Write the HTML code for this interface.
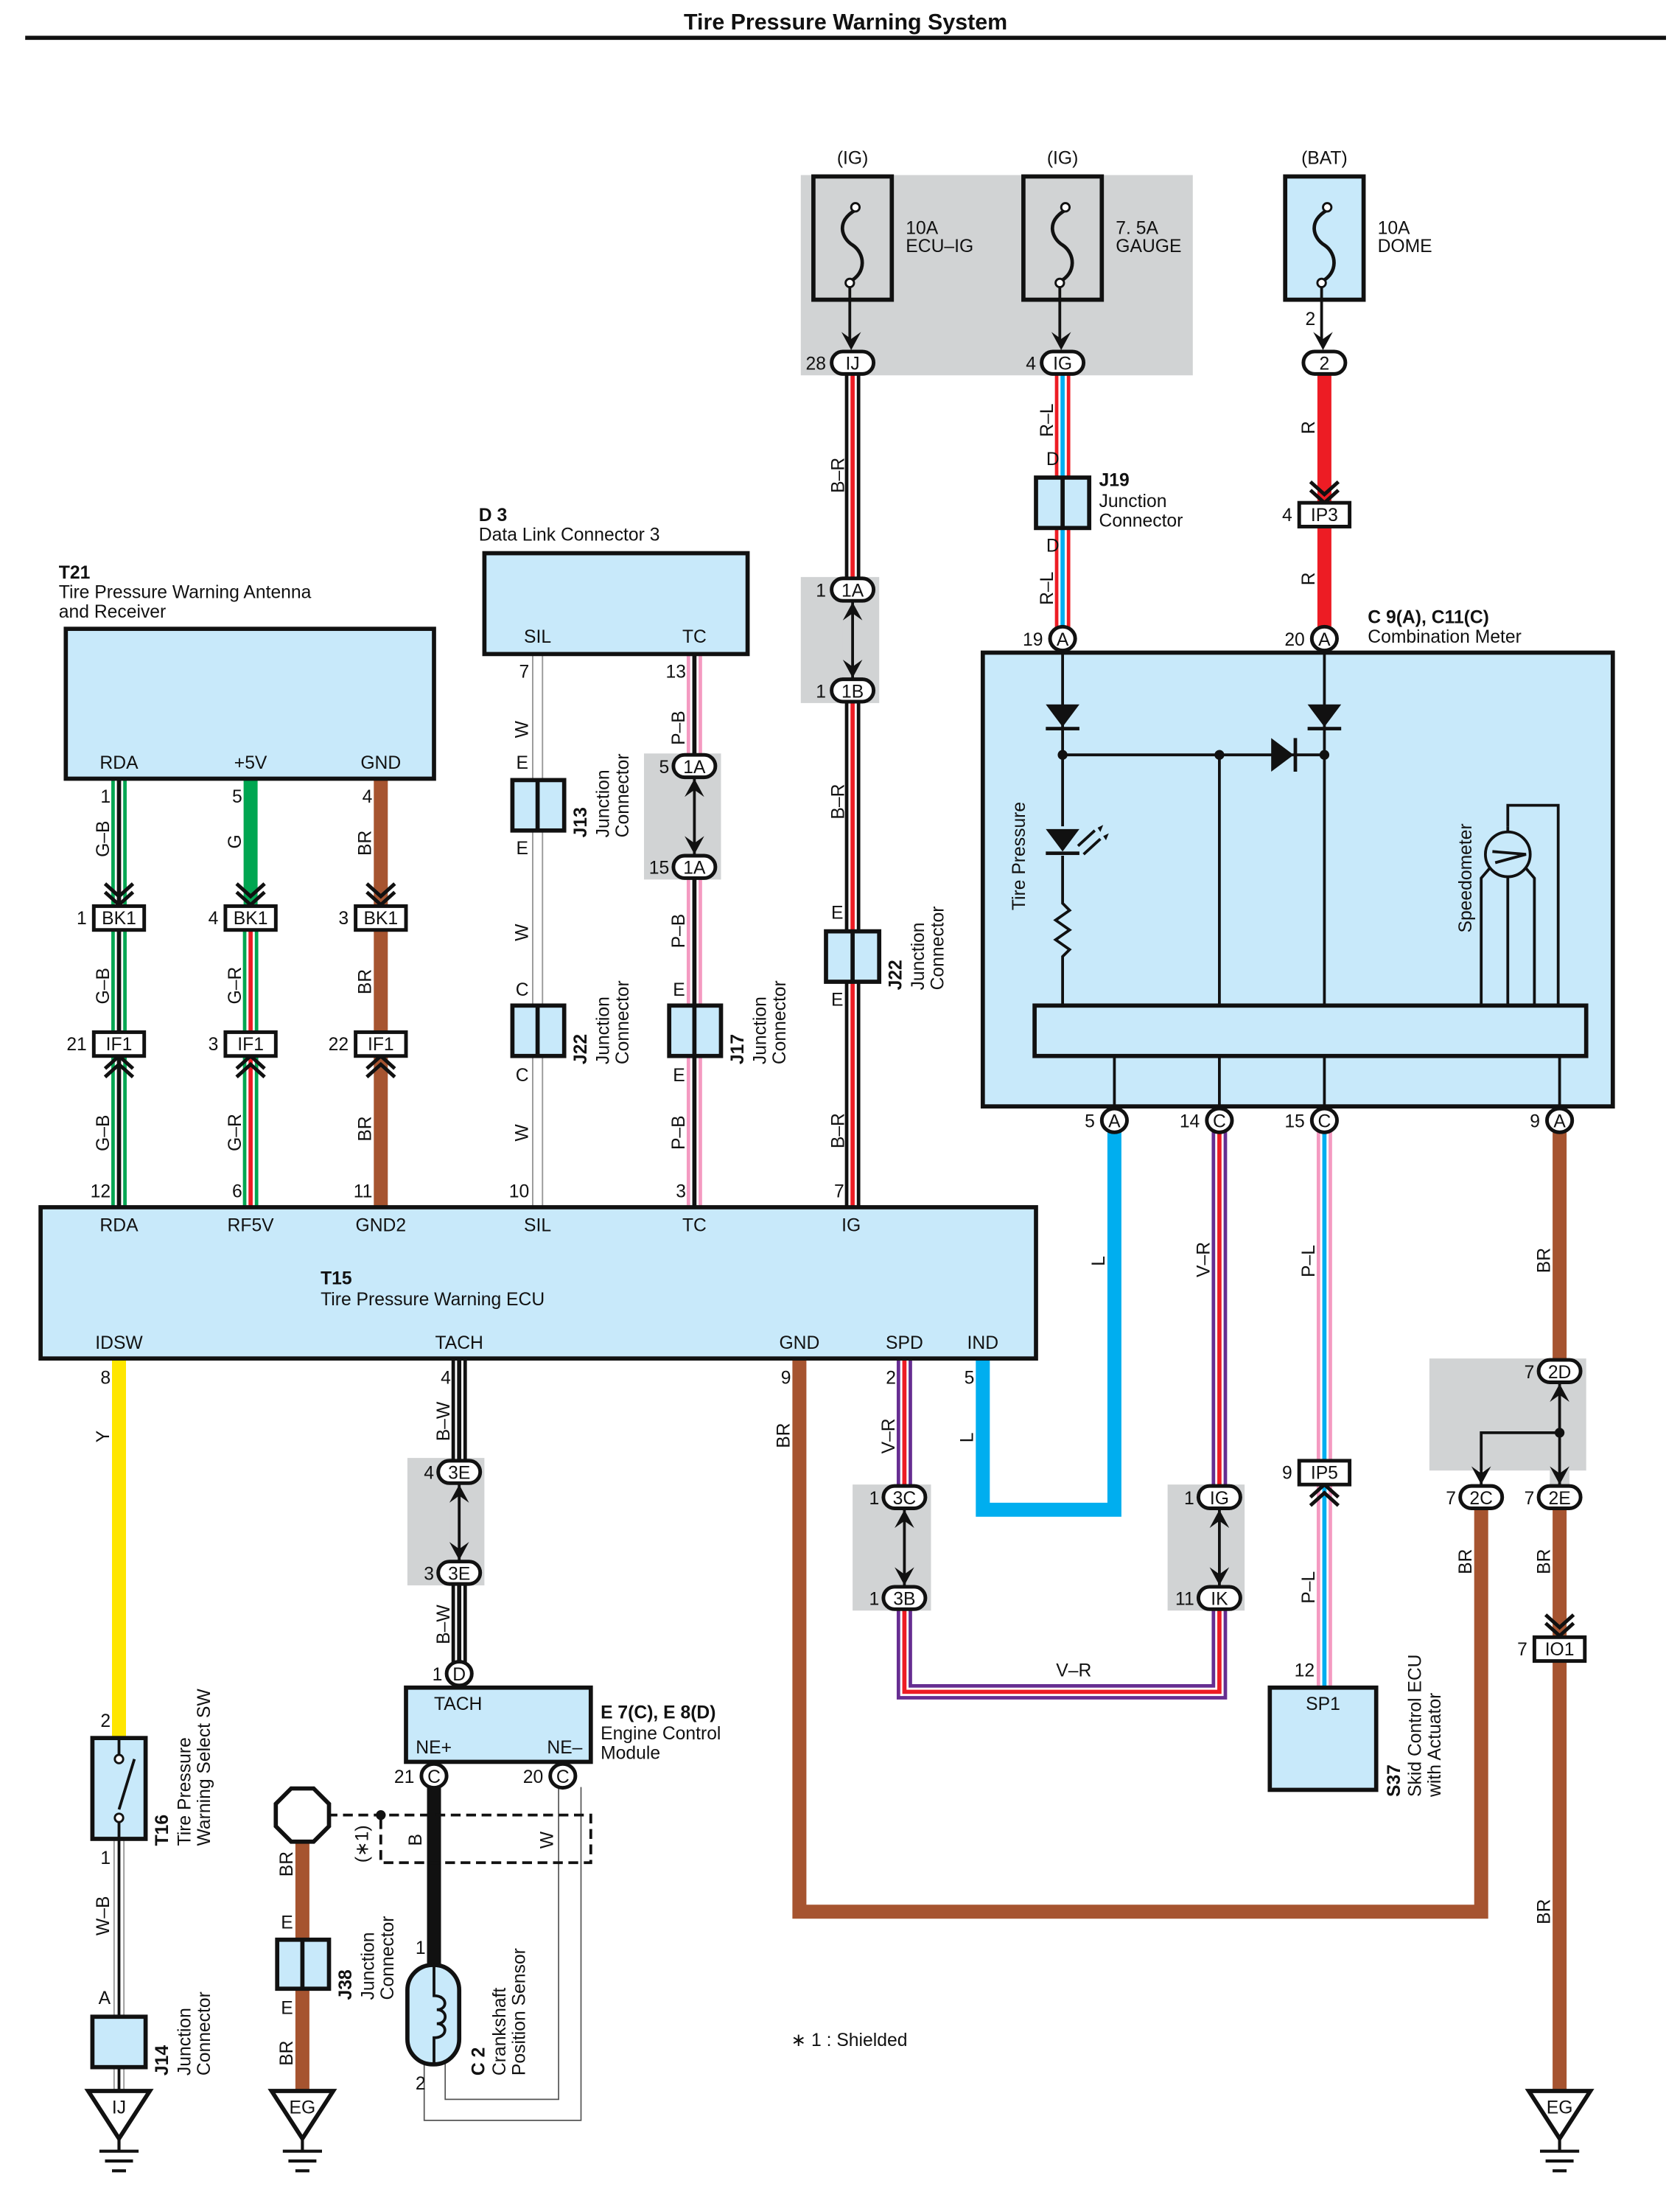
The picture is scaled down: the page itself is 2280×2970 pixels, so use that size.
<!DOCTYPE html>
<html><head><meta charset="utf-8"><style>
html,body{margin:0;padding:0;background:#fff}
svg{display:block}
text{font-family:"Liberation Sans",sans-serif;font-size:13px;fill:#111}
.b{font-weight:bold}
.m{text-anchor:middle}
.e{text-anchor:end}
</style></head><body>
<svg width="2280" height="2970" viewBox="0 0 1200 1563" preserveAspectRatio="none" xmlns="http://www.w3.org/2000/svg">
<defs>
<path id="ad" d="M0,0 L-7,-13 L0,-8 L7,-13 Z" fill="#111"/>
<path id="au" d="M0,0 L-7,13 L0,8 L7,13 Z" fill="#111"/>
<path id="cd" d="M-10,-14 L0,-5 L10,-14 M-10,-8 L0,1 L10,-8" stroke="#111" stroke-width="2.6" fill="none"/>
<path id="cu" d="M-10,14 L0,5 L10,14 M-10,8 L0,-1 L10,8" stroke="#111" stroke-width="2.6" fill="none"/>
</defs>
<text x="604" y="21" class="b m" style="font-size:16px">Tire Pressure Warning System</text>
<line x1="18" y1="27" x2="1190" y2="27" stroke="#111" stroke-width="3"/>

<!-- gray areas -->
<g fill="#d1d3d4">
<rect x="572" y="125" width="280" height="143"/>
<rect x="572" y="412" width="56" height="90"/>
<rect x="460" y="538" width="55" height="90"/>
<rect x="291" y="1041" width="55" height="91"/>
<rect x="609" y="1060" width="56" height="90"/>
<rect x="834" y="1060" width="55" height="90"/>
<rect x="1021" y="970" width="112" height="80"/>
</g>

<!-- fuses -->
<g stroke="#111" stroke-width="3" fill="#c8e9fa">
<rect x="581" y="126" width="56" height="88" fill="none"/>
<rect x="731" y="126" width="56" height="88" fill="none"/>
<rect x="918" y="126" width="56" height="88"/>
</g>
<g stroke="#111" stroke-width="2.5" fill="none">
<path d="M611,150 c-14,8 -10,20 -2,25 c9,6 10,20 -2,26"/>
<path d="M761,150 c-14,8 -10,20 -2,25 c9,6 10,20 -2,26"/>
<path d="M948,150 c-14,8 -10,20 -2,25 c9,6 10,20 -2,26"/>
</g>
<g fill="#fff" stroke="#111" stroke-width="1.5"><circle cx="611" cy="148" r="3"/><circle cx="607" cy="202" r="3"/><circle cx="761" cy="148" r="3"/><circle cx="757" cy="202" r="3"/><circle cx="948" cy="148" r="3"/><circle cx="944" cy="202" r="3"/></g>
<text x="609" y="117" class="m">(IG)</text><text x="759" y="117" class="m">(IG)</text><text x="946" y="117" class="m">(BAT)</text>
<text x="647" y="167">10A</text><text x="647" y="180">ECU–IG</text>
<text x="797" y="167">7. 5A</text><text x="797" y="180">GAUGE</text>
<text x="984" y="167">10A</text><text x="984" y="180">DOME</text>
<g stroke="#111" stroke-width="2"><line x1="607" y1="205" x2="607" y2="245"/><line x1="757" y1="205" x2="757" y2="245"/><line x1="944" y1="205" x2="944" y2="245"/></g>
<use href="#ad" x="608" y="250"/><use href="#ad" x="758" y="250"/><use href="#ad" x="945" y="250"/>
<text x="936" y="232" class="m">2</text>

<!-- ====== WIRES ====== -->
<g fill="none" stroke-linejoin="miter">
<!-- B-R main -->
<polyline points="609,266 609,862" stroke="#111" stroke-width="11"/>
<polyline points="609,266 609,862" stroke="#fff" stroke-width="6"/>
<polyline points="609,266 609,862" stroke="#ed1c24" stroke-width="3"/>
<!-- R-L -->
<polyline points="759,266 759,456" stroke="#ed1c24" stroke-width="11"/>
<polyline points="759,266 759,456" stroke="#fff" stroke-width="6"/>
<polyline points="759,266 759,456" stroke="#00aeef" stroke-width="3"/>
<!-- R -->
<line x1="946" y1="266" x2="946" y2="456" stroke="#ed1c24" stroke-width="10"/>
<!-- G-B -->
<line x1="85" y1="556" x2="85" y2="862" stroke="#00a651" stroke-width="11"/>
<line x1="85" y1="556" x2="85" y2="862" stroke="#fff" stroke-width="6"/>
<line x1="85" y1="556" x2="85" y2="862" stroke="#111" stroke-width="3"/>
<!-- G / G-R -->
<line x1="179" y1="556" x2="179" y2="655" stroke="#00a651" stroke-width="10"/>
<line x1="179" y1="655" x2="179" y2="862" stroke="#00a651" stroke-width="11"/>
<line x1="179" y1="655" x2="179" y2="862" stroke="#fff" stroke-width="6"/>
<line x1="179" y1="655" x2="179" y2="862" stroke="#ed1c24" stroke-width="3"/>
<!-- BR -->
<line x1="272" y1="556" x2="272" y2="862" stroke="#a65430" stroke-width="10"/>
<!-- W SIL -->
<line x1="384" y1="467" x2="384" y2="862" stroke="#999" stroke-width="8"/>
<line x1="384" y1="467" x2="384" y2="862" stroke="#fff" stroke-width="6"/>
<!-- P-B TC -->
<line x1="496" y1="467" x2="496" y2="862" stroke="#f49ac1" stroke-width="11"/>
<line x1="496" y1="467" x2="496" y2="862" stroke="#fff" stroke-width="6"/>
<line x1="496" y1="467" x2="496" y2="862" stroke="#111" stroke-width="3"/>
<!-- Y -->
<line x1="85" y1="970" x2="85" y2="1241" stroke="#ffe600" stroke-width="10"/>
<!-- W-B -->
<line x1="85" y1="1313" x2="85" y2="1493" stroke="#999" stroke-width="8"/>
<line x1="85" y1="1313" x2="85" y2="1493" stroke="#fff" stroke-width="6"/>
<line x1="85" y1="1313" x2="85" y2="1493" stroke="#111" stroke-width="2"/>
<!-- B-W tach -->
<line x1="328" y1="970" x2="328" y2="1195" stroke="#111" stroke-width="11"/>
<line x1="328" y1="970" x2="328" y2="1195" stroke="#fff" stroke-width="6"/>
<line x1="328" y1="970" x2="328" y2="1195" stroke="#111" stroke-width="3"/>
<!-- B NE+ -->
<line x1="310" y1="1276" x2="310" y2="1403" stroke="#111" stroke-width="10"/>
<!-- W NE- two thin lines -->
<polyline points="399,1276 399,1499 318,1499 318,1473" stroke="#555" stroke-width="0.9"/>
<polyline points="415,1276 415,1514 303,1514 303,1473" stroke="#555" stroke-width="0.9"/>
<!-- BR J38 -->
<line x1="216" y1="1313" x2="216" y2="1493" stroke="#a65430" stroke-width="10"/>
<!-- GND BR -->
<polyline points="571,970 571,1365 1058,1365 1058,1077" stroke="#a65430" stroke-width="10"/>
<!-- V-R SPD -->
<polyline points="646,970 646,1208 871,1208 871,808" stroke="#662d91" stroke-width="11"/>
<polyline points="646,970 646,1208 871,1208 871,808" stroke="#fff" stroke-width="6"/>
<polyline points="646,970 646,1208 871,1208 871,808" stroke="#ed1c24" stroke-width="3"/>
<!-- L IND -->
<polyline points="702,970 702,1078 796,1078 796,808" stroke="#00aeef" stroke-width="10"/>
<!-- P-L -->
<line x1="946" y1="808" x2="946" y2="1205" stroke="#f49ac1" stroke-width="11"/>
<line x1="946" y1="808" x2="946" y2="1205" stroke="#fff" stroke-width="6"/>
<line x1="946" y1="808" x2="946" y2="1205" stroke="#00aeef" stroke-width="3"/>
<!-- BR 9A -->
<line x1="1114" y1="808" x2="1114" y2="1493" stroke="#a65430" stroke-width="10"/>
</g>
<!-- white-over gray double-arrow internal lines -->
<rect x="602" y="428" width="14" height="58" fill="#d1d3d4"/>
<rect x="489" y="555" width="14" height="56" fill="#d1d3d4"/>
<rect x="321" y="1058" width="14" height="58" fill="#d1d3d4"/>
<rect x="639" y="1077" width="14" height="56" fill="#d1d3d4"/>
<rect x="864" y="1077" width="14" height="56" fill="#d1d3d4"/>
<rect x="1107" y="987" width="14" height="75" fill="#d1d3d4"/>
<g stroke="#111" stroke-width="2">
<line x1="609" y1="430" x2="609" y2="484"/><line x1="496" y1="556" x2="496" y2="610"/><line x1="328" y1="1060" x2="328" y2="1114"/>
<line x1="646" y1="1078" x2="646" y2="1132"/><line x1="871" y1="1078" x2="871" y2="1132"/>
<line x1="1114" y1="988" x2="1114" y2="1060"/><polyline points="1114,1023 1058,1023 1058,1060" fill="none"/>
</g>
<circle cx="1114" cy="1023" r="3.5" fill="#111"/>
<use href="#au" x="609" y="430"/><use href="#ad" x="609" y="484"/>
<use href="#au" x="496" y="556"/><use href="#ad" x="496" y="610"/>
<use href="#au" x="328" y="1060"/><use href="#ad" x="328" y="1114"/>
<use href="#au" x="646" y="1078"/><use href="#ad" x="646" y="1132"/>
<use href="#au" x="871" y="1078"/><use href="#ad" x="871" y="1132"/>
<use href="#au" x="1114" y="988"/><use href="#ad" x="1058" y="1060"/><use href="#ad" x="1114" y="1060"/>

<!-- chevrons -->
<use href="#cd" x="85" y="645"/><use href="#cd" x="179" y="645"/><use href="#cd" x="272" y="645"/>
<use href="#cu" x="85" y="755"/><use href="#cu" x="179" y="755"/><use href="#cu" x="272" y="755"/>
<use href="#cd" x="946" y="358"/><use href="#cu" x="946" y="1061"/><use href="#cd" x="1114" y="1167"/>

<!-- J junction boxes -->
<g stroke="#111" stroke-width="3" fill="#c8e9fa">
<rect x="740" y="341" width="38" height="36"/><line x1="759" y1="341" x2="759" y2="377"/>
<rect x="590" y="665" width="38" height="36"/><line x1="609" y1="665" x2="609" y2="701"/>
<rect x="366" y="557" width="37" height="36"/><line x1="384" y1="557" x2="384" y2="593"/>
<rect x="366" y="718" width="37" height="36"/><line x1="384" y1="718" x2="384" y2="754"/>
<rect x="478" y="718" width="37" height="36"/><line x1="496" y1="718" x2="496" y2="754"/>
<rect x="66" y="1440" width="38" height="36"/>
<rect x="198" y="1385" width="37" height="35"/><line x1="216" y1="1385" x2="216" y2="1420"/>
</g>

<!-- T21 -->
<rect x="47" y="449" width="263" height="107" fill="#c8e9fa" stroke="#111" stroke-width="3"/>
<text x="42" y="413" class="b">T21</text><text x="42" y="427">Tire Pressure Warning Antenna</text><text x="42" y="441">and Receiver</text>
<text x="85" y="549" class="m">RDA</text><text x="179" y="549" class="m">+5V</text><text x="272" y="549" class="m">GND</text>
<!-- D3 -->
<rect x="346" y="395" width="188" height="72" fill="#c8e9fa" stroke="#111" stroke-width="3"/>
<text x="342" y="372" class="b">D 3</text><text x="342" y="386">Data Link Connector 3</text>
<text x="384" y="459" class="m">SIL</text><text x="496" y="459" class="m">TC</text>
<!-- Combination meter -->
<rect x="702" y="466" width="450" height="324" fill="#c8e9fa" stroke="#111" stroke-width="3"/>
<rect x="739" y="718" width="394" height="36" fill="#c8e9fa" stroke="#111" stroke-width="3"/>
<text x="977" y="445" class="b">C 9(A), C11(C)</text><text x="977" y="459">Combination Meter</text>
<g stroke="#111" stroke-width="2" fill="none">
<line x1="759" y1="466" x2="759" y2="590"/>
<polyline points="759,611 759,645 764,650 754,657 764,664 754,671 764,678 759,683 759,718"/>
<line x1="759" y1="539" x2="946" y2="539"/>
<line x1="871" y1="539" x2="871" y2="718"/>
<line x1="946" y1="466" x2="946" y2="718"/>
<line x1="796" y1="754" x2="796" y2="790"/><line x1="871" y1="754" x2="871" y2="790"/><line x1="946" y1="754" x2="946" y2="790"/><line x1="1114" y1="754" x2="1114" y2="790"/>
<polyline points="1058,718 1058,627 1064,620"/><polyline points="1077,718 1077,590"/><polyline points="1096,718 1096,627 1090,620"/>
<polyline points="1077,590 1077,575 1113,575 1113,718"/>
<circle cx="1077" cy="610" r="16" fill="#c8e9fa"/>
<polyline points="1066,608 1090,610 1068,616" />
<line x1="770" y1="604" x2="782" y2="593"/><line x1="774" y1="610" x2="786" y2="599"/>
</g>
<g fill="#111">
<path d="M747,503 L771,503 L759,519 Z"/><rect x="747" y="519" width="24" height="2.5"/>
<path d="M934,503 L958,503 L946,519 Z"/><rect x="934" y="519" width="24" height="2.5"/>
<path d="M908,527 L908,551 L924,539 Z"/><rect x="924" y="527" width="2.5" height="24"/>
<path d="M747,592 L771,592 L759,608 Z"/><rect x="747" y="608" width="24" height="2.5"/>
<path d="M784,591 l4,-2 l-2,5 z M788,597 l4,-2 l-2,5 z"/>
<circle cx="759" cy="539" r="3.5"/><circle cx="871" cy="539" r="3.5"/><circle cx="946" cy="539" r="3.5"/>
</g>
<text transform="translate(732,650) rotate(-90)">Tire Pressure</text>
<text transform="translate(1051,666) rotate(-90)">Speedometer</text>

<!-- ECU -->
<rect x="29" y="862" width="711" height="108" fill="#c8e9fa" stroke="#111" stroke-width="3"/>
<text x="85" y="879" class="m">RDA</text><text x="179" y="879" class="m">RF5V</text><text x="272" y="879" class="m">GND2</text><text x="384" y="879" class="m">SIL</text><text x="496" y="879" class="m">TC</text><text x="608" y="879" class="m">IG</text>
<text x="229" y="917" class="b">T15</text><text x="229" y="932">Tire Pressure Warning ECU</text>
<text x="85" y="963" class="m">IDSW</text><text x="328" y="963" class="m">TACH</text><text x="571" y="963" class="m">GND</text><text x="646" y="963" class="m">SPD</text><text x="702" y="963" class="m">IND</text>

<!-- T16 switch -->
<rect x="66" y="1241" width="38" height="72" fill="#c8e9fa" stroke="#111" stroke-width="3"/>
<g stroke="#111" stroke-width="2" fill="none"><line x1="85" y1="1241" x2="85" y2="1253"/><line x1="85" y1="1301" x2="85" y2="1313"/><line x1="85" y1="1292" x2="96" y2="1256"/></g>
<circle cx="85" cy="1256" r="3" fill="#fff" stroke="#111" stroke-width="1.5"/><circle cx="85" cy="1298" r="3" fill="#fff" stroke="#111" stroke-width="1.5"/>

<!-- ECM -->
<rect x="290" y="1205" width="132" height="53" fill="#c8e9fa" stroke="#111" stroke-width="3"/>
<text x="310" y="1221">TACH</text><text x="297" y="1252">NE+</text><text x="416" y="1252" class="e">NE–</text>
<text x="429" y="1227" class="b">E 7(C), E 8(D)</text><text x="429" y="1242">Engine Control</text><text x="429" y="1256">Module</text>
<!-- shield -->
<polyline points="234,1296 422,1296 422,1330 272,1330 272,1296" fill="none" stroke="#111" stroke-width="2" stroke-dasharray="7,4"/>
<circle cx="272" cy="1296" r="3.5" fill="#111"/>
<polygon points="208,1277 224,1277 235,1288 235,1304 224,1315 208,1315 197,1304 197,1288" fill="#fff" stroke="#111" stroke-width="3"/>
<text transform="translate(263,1330) rotate(-90)">(∗1)</text>
<text transform="translate(301,1318) rotate(-90)">B</text><text transform="translate(395,1320) rotate(-90)">W</text>
<!-- crank sensor -->
<rect x="291" y="1403" width="37" height="71" rx="18" fill="#c8e9fa" stroke="#111" stroke-width="3"/>
<path d="M310,1403 v22 c10,0 10,10 2,10 c8,0 8,10 0,10 c8,0 8,10 -2,10 v19" fill="none" stroke="#111" stroke-width="2"/>
<!-- SP1 -->
<rect x="907" y="1205" width="76" height="73" fill="#c8e9fa" stroke="#111" stroke-width="3"/>
<text x="945" y="1221" class="m">SP1</text>

<!-- grounds -->
<g fill="#fff" stroke="#111" stroke-width="3">
<polygon points="63,1493 107,1493 85,1527"/><polygon points="194,1493 238,1493 216,1527"/><polygon points="1092,1493 1136,1493 1114,1527"/>
</g>
<g stroke="#111" stroke-width="2.2">
<path d="M85,1527 v9 M71,1536 h28 M75,1543 h20 M80,1550 h10"/>
<path d="M216,1527 v9 M202,1536 h28 M206,1543 h20 M211,1550 h10"/>
<path d="M1114,1527 v9 M1100,1536 h28 M1104,1543 h20 M1109,1550 h10"/>
</g>
<text x="85" y="1509" class="m">IJ</text><text x="216" y="1509" class="m">EG</text><text x="1114" y="1509" class="m">EG</text>

<!-- pill connectors -->
<g fill="#fff" stroke="#111" stroke-width="2.6">
<rect x="594" y="251" width="30" height="16" rx="8"/><rect x="744" y="251" width="30" height="16" rx="8"/><rect x="931" y="251" width="30" height="16" rx="8"/>
<rect x="594" y="413" width="30" height="16" rx="8"/><rect x="594" y="485" width="30" height="16" rx="8"/>
<rect x="481" y="539" width="30" height="16" rx="8"/><rect x="481" y="611" width="30" height="16" rx="8"/>
<rect x="313" y="1043" width="30" height="16" rx="8"/><rect x="313" y="1115" width="30" height="16" rx="8"/>
<rect x="631" y="1061" width="30" height="16" rx="8"/><rect x="631" y="1133" width="30" height="16" rx="8"/>
<rect x="856" y="1061" width="30" height="16" rx="8"/><rect x="856" y="1133" width="30" height="16" rx="8"/>
<rect x="1099" y="971" width="30" height="16" rx="8"/><rect x="1043" y="1061" width="30" height="16" rx="8"/><rect x="1099" y="1061" width="30" height="16" rx="8"/>
<ellipse cx="759" cy="456" rx="9" ry="8.5"/><ellipse cx="946" cy="456" rx="9" ry="8.5"/>
<ellipse cx="796" cy="800" rx="9" ry="8.5"/><ellipse cx="871" cy="800" rx="9" ry="8.5"/><ellipse cx="946" cy="800" rx="9" ry="8.5"/><ellipse cx="1114" cy="800" rx="9" ry="8.5"/>
<ellipse cx="328" cy="1195" rx="9" ry="8.5"/><ellipse cx="310" cy="1268" rx="9" ry="8.5"/><ellipse cx="402" cy="1268" rx="9" ry="8.5"/>
<rect x="67" y="647" width="36" height="17"/><rect x="161" y="647" width="36" height="17"/><rect x="254" y="647" width="36" height="17"/>
<rect x="67" y="737" width="36" height="17"/><rect x="161" y="737" width="36" height="17"/><rect x="254" y="737" width="36" height="17"/>
<rect x="928" y="359" width="36" height="17"/><rect x="928" y="1043" width="36" height="17"/><rect x="1096" y="1169" width="36" height="17"/>
</g>
<g class="m">
<text x="609" y="264" class="m">IJ</text><text x="759" y="264" class="m">IG</text><text x="946" y="264" class="m">2</text>
<text x="609" y="426" class="m">1A</text><text x="609" y="498" class="m">1B</text>
<text x="496" y="552" class="m">1A</text><text x="496" y="624" class="m">1A</text>
<text x="328" y="1056" class="m">3E</text><text x="328" y="1128" class="m">3E</text>
<text x="646" y="1074" class="m">3C</text><text x="646" y="1146" class="m">3B</text>
<text x="871" y="1074" class="m">IG</text><text x="871" y="1146" class="m">IK</text>
<text x="1114" y="984" class="m">2D</text><text x="1058" y="1074" class="m">2C</text><text x="1114" y="1074" class="m">2E</text>
<text x="759" y="461" class="m">A</text><text x="946" y="461" class="m">A</text>
<text x="796" y="805" class="m">A</text><text x="871" y="805" class="m">C</text><text x="946" y="805" class="m">C</text><text x="1114" y="805" class="m">A</text>
<text x="328" y="1200" class="m">D</text><text x="310" y="1273" class="m">C</text><text x="402" y="1273" class="m">C</text>
<text x="85" y="660" class="m">BK1</text><text x="179" y="660" class="m">BK1</text><text x="272" y="660" class="m">BK1</text>
<text x="85" y="750" class="m">IF1</text><text x="179" y="750" class="m">IF1</text><text x="272" y="750" class="m">IF1</text>
<text x="946" y="372" class="m">IP3</text><text x="946" y="1056" class="m">IP5</text><text x="1114" y="1182" class="m">IO1</text>
</g>
<!-- pin numbers -->
<g>
<text x="590" y="264" class="e">28</text><text x="740" y="264" class="e">4</text>
<text x="590" y="426" class="e">1</text><text x="590" y="498" class="e">1</text>
<text x="478" y="552" class="e">5</text><text x="478" y="624" class="e">15</text>
<text x="310" y="1056" class="e">4</text><text x="310" y="1128" class="e">3</text>
<text x="628" y="1074" class="e">1</text><text x="628" y="1146" class="e">1</text>
<text x="853" y="1074" class="e">1</text><text x="853" y="1146" class="e">11</text>
<text x="1096" y="984" class="e">7</text><text x="1040" y="1074" class="e">7</text><text x="1096" y="1074" class="e">7</text>
<text x="745" y="461" class="e">19</text><text x="932" y="461" class="e">20</text>
<text x="782" y="805" class="e">5</text><text x="857" y="805" class="e">14</text><text x="932" y="805" class="e">15</text><text x="1100" y="805" class="e">9</text>
<text x="316" y="1200" class="e">1</text><text x="296" y="1273" class="e">21</text><text x="388" y="1273" class="e">20</text>
<text x="62" y="660" class="e">1</text><text x="156" y="660" class="e">4</text><text x="249" y="660" class="e">3</text>
<text x="62" y="750" class="e">21</text><text x="156" y="750" class="e">3</text><text x="249" y="750" class="e">22</text>
<text x="923" y="372" class="e">4</text><text x="923" y="1056" class="e">9</text><text x="1091" y="1182" class="e">7</text>
<text x="79" y="573" class="e">1</text><text x="173" y="573" class="e">5</text><text x="266" y="573" class="e">4</text>
<text x="79" y="855" class="e">12</text><text x="173" y="855" class="e">6</text><text x="266" y="855" class="e">11</text>
<text x="378" y="484" class="e">7</text><text x="490" y="484" class="e">13</text>
<text x="378" y="855" class="e">10</text><text x="490" y="855" class="e">3</text><text x="603" y="855" class="e">7</text>
<text x="79" y="988" class="e">8</text><text x="322" y="988" class="e">4</text><text x="565" y="988" class="e">9</text><text x="640" y="988" class="e">2</text><text x="696" y="988" class="e">5</text>
<text x="79" y="1233" class="e">2</text><text x="79" y="1331" class="e">1</text><text x="79" y="1431" class="e">A</text>
<text x="304" y="1395" class="e">1</text><text x="304" y="1492" class="e">2</text>
<text x="939" y="1197" class="e">12</text>
<text x="752" y="332" class="m">D</text><text x="752" y="394" class="m">D</text>
<text x="598" y="656" class="m">E</text><text x="598" y="718" class="m">E</text>
<text x="373" y="549" class="m">E</text><text x="373" y="610" class="m">E</text>
<text x="373" y="711" class="m">C</text><text x="373" y="772" class="m">C</text>
<text x="485" y="711" class="m">E</text><text x="485" y="772" class="m">E</text>
<text x="205" y="1377" class="m">E</text><text x="205" y="1438" class="m">E</text>
</g>
<!-- wire labels (rotated) -->
<g>
<text transform="translate(603,352) rotate(-90)">B–R</text><text transform="translate(603,585) rotate(-90)">B–R</text><text transform="translate(603,820) rotate(-90)">B–R</text>
<text transform="translate(752,312) rotate(-90)">R–L</text><text transform="translate(752,432) rotate(-90)">R–L</text>
<text transform="translate(939,310) rotate(-90)">R</text><text transform="translate(939,418) rotate(-90)">R</text>
<text transform="translate(78,612) rotate(-90)">G–B</text><text transform="translate(172,606) rotate(-90)">G</text><text transform="translate(265,611) rotate(-90)">BR</text>
<text transform="translate(78,717) rotate(-90)">G–B</text><text transform="translate(172,717) rotate(-90)">G–R</text><text transform="translate(265,710) rotate(-90)">BR</text>
<text transform="translate(78,822) rotate(-90)">G–B</text><text transform="translate(172,822) rotate(-90)">G–R</text><text transform="translate(265,815) rotate(-90)">BR</text>
<text transform="translate(377,527) rotate(-90)">W</text><text transform="translate(377,672) rotate(-90)">W</text><text transform="translate(377,815) rotate(-90)">W</text>
<text transform="translate(489,532) rotate(-90)">P–B</text><text transform="translate(489,677) rotate(-90)">P–B</text><text transform="translate(489,821) rotate(-90)">P–B</text>
<text transform="translate(78,1030) rotate(-90)">Y</text><text transform="translate(78,1382) rotate(-90)">W–B</text>
<text transform="translate(321,1029) rotate(-90)">B–W</text><text transform="translate(321,1174) rotate(-90)">B–W</text>
<text transform="translate(209,1340) rotate(-90)">BR</text><text transform="translate(209,1475) rotate(-90)">BR</text>
<text transform="translate(564,1034) rotate(-90)">BR</text>
<text transform="translate(639,1038) rotate(-90)">V–R</text>
<text transform="translate(695,1030) rotate(-90)">L</text><text transform="translate(789,904) rotate(-90)">L</text>
<text transform="translate(864,912) rotate(-90)">V–R</text>
<text transform="translate(939,912) rotate(-90)">P–L</text><text transform="translate(939,1145) rotate(-90)">P–L</text>
<text transform="translate(1107,909) rotate(-90)">BR</text><text transform="translate(1107,1124) rotate(-90)">BR</text><text transform="translate(1051,1124) rotate(-90)">BR</text><text transform="translate(1107,1374) rotate(-90)">BR</text>
<text x="767" y="1197" class="m">V–R</text>
</g>
<!-- component labels rotated -->
<g>
<text x="785" y="347" class="b">J19</text><text x="785" y="362">Junction</text><text x="785" y="376">Connector</text>
<text transform="translate(419,598) rotate(-90)" class="b">J13</text><text transform="translate(435,598) rotate(-90)">Junction</text><text transform="translate(449,598) rotate(-90)">Connector</text>
<text transform="translate(419,760) rotate(-90)" class="b">J22</text><text transform="translate(435,760) rotate(-90)">Junction</text><text transform="translate(449,760) rotate(-90)">Connector</text>
<text transform="translate(531,760) rotate(-90)" class="b">J17</text><text transform="translate(547,760) rotate(-90)">Junction</text><text transform="translate(561,760) rotate(-90)">Connector</text>
<text transform="translate(644,707) rotate(-90)" class="b">J22</text><text transform="translate(660,707) rotate(-90)">Junction</text><text transform="translate(674,707) rotate(-90)">Connector</text>
<text transform="translate(120,1318) rotate(-90)" class="b">T16</text><text transform="translate(136,1318) rotate(-90)">Tire Pressure</text><text transform="translate(150,1318) rotate(-90)">Warning Select SW</text>
<text transform="translate(120,1482) rotate(-90)" class="b">J14</text><text transform="translate(136,1482) rotate(-90)">Junction</text><text transform="translate(150,1482) rotate(-90)">Connector</text>
<text transform="translate(251,1428) rotate(-90)" class="b">J38</text><text transform="translate(267,1428) rotate(-90)">Junction</text><text transform="translate(281,1428) rotate(-90)">Connector</text>
<text transform="translate(346,1482) rotate(-90)" class="b">C 2</text><text transform="translate(361,1482) rotate(-90)">Crankshaft</text><text transform="translate(375,1482) rotate(-90)">Position Sensor</text>
<text transform="translate(1000,1283) rotate(-90)" class="b">S37</text><text transform="translate(1015,1283) rotate(-90)">Skid Control ECU</text><text transform="translate(1029,1283) rotate(-90)">with Actuator</text>
<text x="565" y="1461">∗ 1 : Shielded</text>
</g>
</svg>
</body></html>
